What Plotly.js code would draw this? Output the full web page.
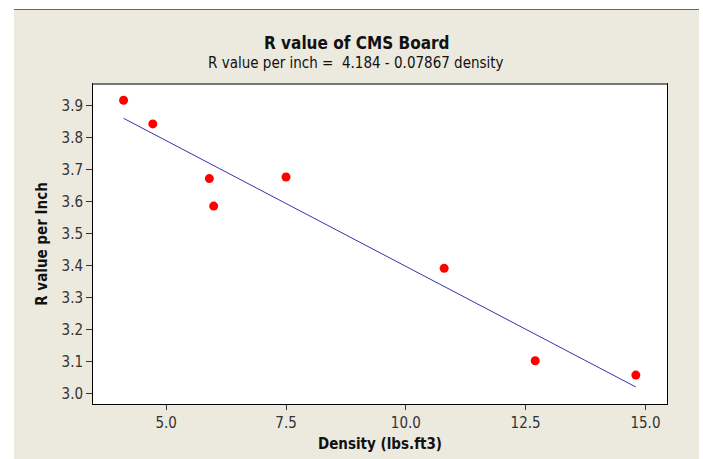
<!DOCTYPE html>
<html>
<head>
<meta charset="utf-8">
<script src="https://cdn.plot.ly/plotly-3.0.1.min.js"></script>
<style>
  html, body { margin: 0; padding: 0; background: #ffffff; }
  #panel { position: absolute; left: 14px; top: 9px; width: 685px; height: 450px;
           background: #ece9df; border-top: 1px solid #666; box-sizing: border-box; }
  #chart { position: absolute; left: 0; top: 0; width: 703px; height: 459px; }
</style>
</head>
<body>
<div id="panel"></div>
<div id="chart"></div>
<script>
// Data
const density = [4.11, 4.72, 5.90, 5.99, 7.50, 10.80, 12.70, 14.80];
const rValue  = [3.917, 3.843, 3.672, 3.586, 3.677, 3.391, 3.102, 3.057];
// Fitted regression (from the chart subtitle)
const fitIntercept = 4.184;
const fitSlope = -0.07867;
const xTicks = [5.0, 7.5, 10.0, 12.5, 15.0];
const xTickText = ["5.0", "7.5", "10.0", "12.5", "15.0"];
const yTicks = [3.0, 3.1, 3.2, 3.3, 3.4, 3.5, 3.6, 3.7, 3.8, 3.9];
const yTickText = ["3.0", "3.1", "3.2", "3.3", "3.4", "3.5", "3.6", "3.7", "3.8", "3.9"];
const titleText = "R value of CMS Board";
const subtitleText = "R value per inch =  4.184 - 0.07867 density";
const xTitle = "Density (lbs.ft3)";
const yTitle = "R value per Inch";

const xMin = Math.min(...density), xMax = Math.max(...density);
const fitX = [xMin, xMax];
const fitY = fitX.map(x => fitIntercept + fitSlope * x);

const FONT = "'DejaVu Sans Condensed', 'DejaVu Sans', sans-serif";

const traces = [
  { x: fitX, y: fitY, mode: 'lines', type: 'scatter',
    line: { color: '#3434b0', width: 1 }, hoverinfo: 'skip' },
  { x: density, y: rValue, mode: 'markers', type: 'scatter',
    marker: { color: '#ff0000', size: 9, symbol: 'circle' } }
];

const layout = {
  width: 703, height: 459,
  paper_bgcolor: 'rgba(0,0,0,0)',
  plot_bgcolor: '#ffffff',
  showlegend: false,
  margin: { l: 93, r: 36, t: 84, b: 55 },
  font: { family: FONT, color: '#333333', size: 15 },
  xaxis: {
    range: [3.472, 15.45], tickvals: xTicks, ticktext: xTickText,
    showgrid: false, zeroline: false, showline: true, linecolor: '#000', linewidth: 1, mirror: true,
    ticks: 'outside', ticklen: 5, tickcolor: '#333', tickwidth: 1,
    tickfont: { family: FONT, size: 15, color: '#333333' },
    title: { text: xTitle, font: { family: FONT, size: 15, color: '#111', weight: 'bold' }, standoff: 7 }
  },
  yaxis: {
    range: [2.9665, 3.968], tickvals: yTicks, ticktext: yTickText,
    showgrid: false, zeroline: false, showline: true, linecolor: '#000', linewidth: 1, mirror: true,
    ticks: 'outside', ticklen: 6, tickcolor: '#333', tickwidth: 1,
    tickfont: { family: FONT, size: 15, color: '#333333' },
    title: { text: yTitle, font: { family: FONT, size: 15, color: '#111', weight: 'bold' }, standoff: 10 }
  },
  annotations: [
    { text: '<b>' + titleText + '</b>', xref: 'paper', yref: 'paper',
      x: (356 - 93) / 574, y: 1 + (84 - 43) / 320, xanchor: 'center', yanchor: 'middle',
      showarrow: false, font: { family: FONT, size: 17, color: '#111' } },
    { text: subtitleText, xref: 'paper', yref: 'paper',
      x: (356 - 93) / 574, y: 1 + (84 - 63) / 320, xanchor: 'center', yanchor: 'middle',
      showarrow: false, font: { family: FONT, size: 15, color: '#111' } }
  ],
  shapes: [
    { type: 'line', xref: 'paper', yref: 'paper', x0: 0, x1: 1, y0: 1, y1: 1,
      line: { color: '#777', width: 2 } }
  ]
};

Plotly.newPlot('chart', traces, layout, { displayModeBar: false, staticPlot: true });
</script>
</body>
</html>
